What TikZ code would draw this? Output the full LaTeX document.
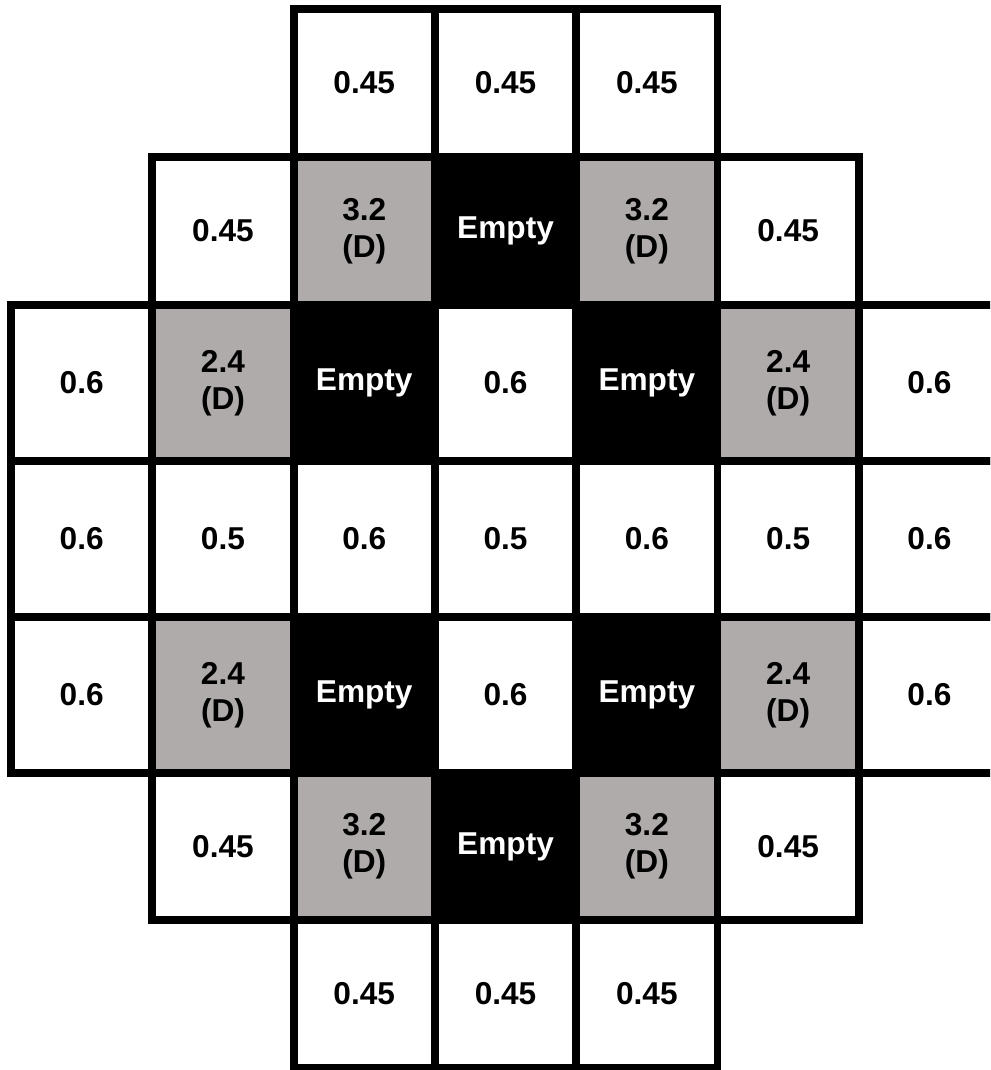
\documentclass[tikz,border=0pt]{standalone}
\usepackage{fontspec}
\setmainfont{Liberation Sans}
\definecolor{cellgray}{RGB}{175,171,171}

\begin{document}
\begin{tikzpicture}[x=0.02cm, y=-0.02cm,
	every node/.style={font=\bfseries\fontsize{18}{21}\selectfont, align=center, inner sep=0pt},
	plain/.style={draw=black, line width=4.5pt, fill=white, text=black},
	dose/.style={draw=black, line width=4.5pt, fill=cellgray, text=black},
	hole/.style={draw=black, line width=4.5pt, fill=black, text=white}]

	\useasboundingbox (0, 0) rectangle (990, 1070);
	\clip (0, 0) rectangle (990, 1070);

	% row 1
	\foreach \c/\s/\t in {3/plain/0.45, 4/plain/0.45, 5/plain/0.45}
	\draw[\s] ({11+141.3*(\c-1)}, 9) rectangle ({11+141.3*\c}, 157) node[midway] (a\c) {\t};

	% row 2
	\foreach \c/\s/\t in {2/plain/0.45, 3/dose/{3.2\\(D)}, 4/hole/Empty, 5/dose/{3.2\\(D)}, 6/plain/0.45}
	\draw[\s] ({11+141.3*(\c-1)}, 157) rectangle ({11+141.3*\c}, 305) node[midway] (b\c) {\t};

	% row 3
	\foreach \c/\s/\t in {1/plain/0.6, 2/dose/{2.4\\(D)}, 3/hole/Empty, 4/plain/0.6, 5/hole/Empty, 6/dose/{2.4\\(D)}, 7/plain/0.6}
	\draw[\s] ({11+141.3*(\c-1)}, 305) rectangle ({11+141.3*\c}, 461) node[midway] (c\c) {\t};

	% row 4
	\foreach \c/\t in {1/0.6, 2/0.5, 3/0.6, 4/0.5, 5/0.6, 6/0.5, 7/0.6}
	\draw[plain] ({11+141.3*(\c-1)}, 461) rectangle ({11+141.3*\c}, 617) node[midway] (d\c) {\t};

	% row 5
	\foreach \c/\s/\t in {1/plain/0.6, 2/dose/{2.4\\(D)}, 3/hole/Empty, 4/plain/0.6, 5/hole/Empty, 6/dose/{2.4\\(D)}, 7/plain/0.6}
	\draw[\s] ({11+141.3*(\c-1)}, 617) rectangle ({11+141.3*\c}, 773) node[midway] (e\c) {\t};

	% row 6
	\foreach \c/\s/\t in {2/plain/0.45, 3/dose/{3.2\\(D)}, 4/hole/Empty, 5/dose/{3.2\\(D)}, 6/plain/0.45}
	\draw[\s] ({11+141.3*(\c-1)}, 773) rectangle ({11+141.3*\c}, 920) node[midway] (f\c) {\t};

	% row 7
	\foreach \c/\s/\t in {3/plain/0.45, 4/plain/0.45, 5/plain/0.45}
	\draw[\s] ({11+141.3*(\c-1)}, 920) rectangle ({11+141.3*\c}, 1068) node[midway] (g\c) {\t};

\end{tikzpicture}
\end{document}
